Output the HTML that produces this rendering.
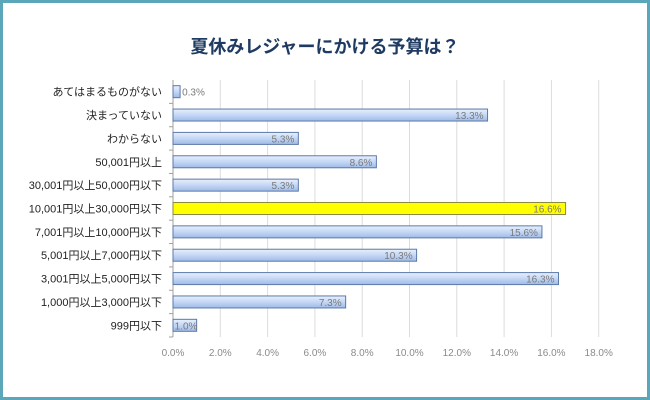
<!DOCTYPE html>
<html><head><meta charset="utf-8"><style>
html,body{margin:0;padding:0;background:#fff;}
#wrap{position:relative;width:650px;height:400px;overflow:hidden;}
#frame{position:absolute;left:0;top:0;width:644px;height:394px;border:3px solid #5ba6b8;}
text{font-family:"Liberation Sans","Noto Sans CJK JP",sans-serif;}
</style></head><body>
<div id="wrap">
<div id="frame"></div>
<svg id="c" width="650" height="400" style="position:absolute;left:0;top:0">
<defs>
<linearGradient id="bg" x1="0" y1="0" x2="0" y2="1">
<stop offset="0" stop-color="#e8f0fd"/><stop offset="0.5" stop-color="#c4d7f5"/><stop offset="1" stop-color="#9fbbe8"/>
</linearGradient>
</defs>
<text x="325" y="53" text-anchor="middle" font-size="18" font-weight="bold" fill="#1f3b63">夏休みレジャーにかける予算は？</text>
</svg>
</div>
<script>
const categories=["あてはまるものがない","決まっていない","わからない","50,001円以上","30,001円以上50,000円以下","10,001円以上30,000円以下","7,001円以上10,000円以下","5,001円以上7,000円以下","3,001円以上5,000円以下","1,000円以上3,000円以下","999円以下"];
const values=[0.3,13.3,5.3,8.6,5.3,16.6,15.6,10.3,16.3,7.3,1.0];
const highlight=[false,false,false,false,false,true,false,false,false,false,false];
const ticks=[0,2,4,6,8,10,12,14,16,18];
const svg=document.getElementById('c');
const NS='http://www.w3.org/2000/svg';
const x0=173,pxPer=23.65,yTop=80,yBot=337;
const xs=v=>x0+v*pxPer;
const step=(yBot-yTop)/categories.length;
const yc=i=>yTop+step*(i+0.5);
function mk(t,a){const e=document.createElementNS(NS,t);for(const k in a)e.setAttribute(k,a[k]);svg.appendChild(e);return e;}
ticks.forEach((t,i)=>{
 const g=mk('line',{x1:xs(t),x2:xs(t),y1:yTop,y2:yBot,stroke:i==0?'#a0a0a0':'#dcdcdc','stroke-width':1});
 
 
 const l=mk('text',{x:xs(t),y:356,'text-anchor':'middle','font-size':10,fill:'#8a8a8a'});
 l.textContent=t.toFixed(1)+'%';
 
 
});
categories.forEach((c,i)=>{
 const y=yc(i);
 const tk=mk('line',{x1:x0-4,x2:x0,y1:yTop+step*(i+1),y2:yTop+step*(i+1),stroke:'#a0a0a0'});
 
 
 const lab=mk('text',{x:162,y:y+4,'text-anchor':'end','font-size':11,fill:'#222'});
 lab.textContent=c;
 
 
 const w=xs(values[i])-x0;
 const b=mk('rect',{x:x0,y:y-6,width:w,height:12,fill:highlight[i]?'#ffff00':'url(#bg)',stroke:highlight[i]?'#8a8a40':'#5b7aa8','stroke-width':1});
 
 
 const small=values[i]<2;
 const v=mk('text',{x:small?xs(values[i])+ (values[i]<0.5?2:-22):xs(values[i])-4,y:y+4,'text-anchor':small?'start':'end','font-size':10,fill:'#7a7a7a'});
 v.textContent=values[i].toFixed(1)+'%';
 
 
});
</script>
</body></html>
